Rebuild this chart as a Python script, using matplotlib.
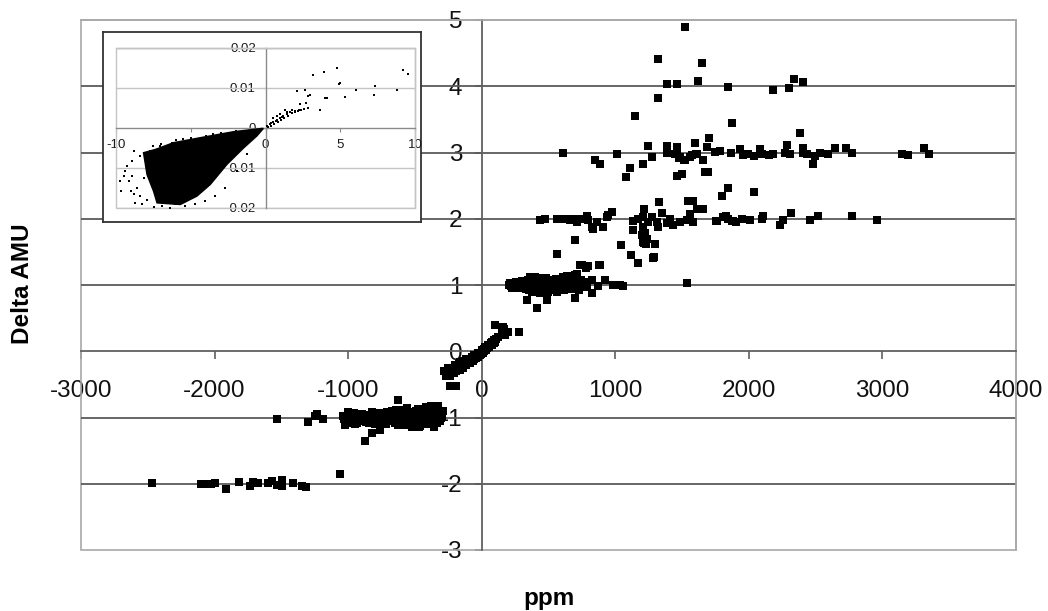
import matplotlib
matplotlib.use('Agg')
import matplotlib.pyplot as plt
from matplotlib.patches import Rectangle

plt.rcParams['font.family'] = ['Liberation Sans', 'DejaVu Sans']
plt.rcParams['axes.unicode_minus'] = False

# ---------------- main chart data (ppm, Delta AMU) ----------------
ppm_m2 = [-2471, -2100, -2065, -2030, -1995, -1917, -1817, -1735, -1711, -1674,
          -1600, -1570, -1532, -1495, -1495, -1410, -1344, -1314, -1061]
amu_m2 = [-1.99, -2.01, -2.01, -2.00, -1.99, -2.08, -1.97, -2.03, -1.97, -1.99,
          -1.99, -1.96, -2.02, -1.95, -2.03, -1.99, -2.03, -2.05, -1.86]

ppm_m1 = [-1530, -1298, -1248, -1186, -1023, -874, -824, -761, -629, -1235,
          -1040, -1020, -1000, -990, -970, -955, -940, -925, -910, -895,
          -880, -865, -850, -835, -820, -805, -790, -775, -760, -745,
          -730, -715, -700, -690, -675, -660, -645, -630, -615, -600,
          -590, -575, -560, -545, -530, -515, -500, -490, -475, -460,
          -450, -440, -425, -410, -400, -390, -375, -360, -350, -340,
          -325, -310, -300, -290, -330, -380, -420, -470, -520, -560,
          -640, -710, -800, -950, -1000, -900, -860, -700, -650, -550,
          -470, -420, -370, -320, -600, -750, -580, -430, -480, -350,
          -1030, -1010, -985, -965, -945, -930, -915, -890, -870, -845,
          -825, -810, -785, -770, -755, -735, -720, -705, -685, -665,
          -650, -635, -620, -605, -585, -570, -555, -540, -525, -510,
          -495, -480, -465, -455, -435, -415, -405, -395, -385, -365,
          -355, -345, -335, -315, -305, -295,
          -240, -195]
amu_m1 = [-1.03, -1.07, -0.97, -1.03, -1.11, -1.36, -1.23, -1.19, -0.74, -0.94,
          -0.97, -1.02, -0.95, -1.05, -1.00, -0.93, -1.04, -0.98, -1.06, -0.95,
          -1.01, -1.07, -0.96, -1.03, -0.92, -1.00, -1.08, -0.97, -1.04, -0.93,
          -1.00, -1.10, -0.96, -1.03, -0.90, -1.06, -0.99, -1.12, -0.94, -1.02,
          -0.88, -1.08, -0.97, -1.04, -0.91, -1.10, -0.99, -1.05, -0.87, -1.13,
          -0.95, -1.02, -0.90, -1.10, -0.97, -1.05, -0.85, -1.14, -0.93, -1.00,
          -0.88, -1.05, -0.95, -0.90, -0.83, -0.82, -0.84, -1.15, -1.14, -0.86,
          -0.89, -0.91, -1.10, -1.10, -0.91, -1.00, -0.99, -1.00, -1.00, -1.00,
          -1.00, -0.97, -0.95, -0.97, -0.95, -0.99, -1.05, -1.07, -0.93, -1.07,
          -1.03, -0.98, -1.08, -0.96, -1.01, -1.09, -0.94, -1.04, -0.97, -1.09,
          -1.02, -0.95, -1.04, -0.93, -1.10, -1.06, -0.97, -1.05, -0.94, -1.00,
          -1.08, -0.95, -1.05, -0.89, -1.12, -0.98, -1.09, -0.94, -1.06, -0.99,
          -0.90, -1.10, -0.98, -1.08, -0.93, -1.04, -0.88, -1.10, -0.99, -0.90,
          -1.03, -0.86, -1.09, -0.92, -1.01, -0.97,
          -0.53, -0.53]

ppm_0 = [-270, -250, -240, -225, -210, -200, -190, -175, -165, -150,
         -140, -125, -115, -100, -90, -75, -65, -50, -40, -25,
         -15, 0, 10, 20, 30, 45, 55, 70, 80, 95,
         100, -200, -160, -120, -250, -280, -230, -180, -130, -60,
         -260, -245, -235, -215, -205, -195, -185, -170, -155, -145,
         -135, -110, -95, -80, -70, -55, -45, -30, -20, -5,
         5, 15, 25, 40, 50, 65, 75, 90, 110,
         100, 160, 199, 175, 279, 150, 170, 120]
amu_0 = [-0.38, -0.33, -0.37, -0.30, -0.33, -0.27, -0.30, -0.24, -0.28, -0.20,
         -0.25, -0.17, -0.21, -0.14, -0.18, -0.10, -0.14, -0.07, -0.10, -0.03,
         -0.06, 0.00, -0.02, 0.04, 0.02, 0.08, 0.06, 0.12, 0.10, 0.17,
         0.14, -0.20, -0.16, -0.12, -0.25, -0.30, -0.26, -0.21, -0.15, -0.05,
         -0.35, -0.28, -0.32, -0.26, -0.29, -0.23, -0.26, -0.19, -0.24, -0.17,
         -0.21, -0.15, -0.12, -0.14, -0.08, -0.11, -0.05, -0.08, -0.02, -0.04,
         0.02, 0.00, 0.06, 0.05, 0.10, 0.09, 0.14, 0.13, 0.19,
         0.39, 0.37, 0.29, 0.24, 0.29, 0.30, 0.33, 0.22]

ppm_1 = [337, 412, 487, 699, 823, 399, 636, 711, 749, 798,
         886, 923, 823, 1023, 1055, 986, 873, 1035, 1540,
         205, 220, 235, 250, 265, 280, 295, 310, 320, 335,
         345, 355, 365, 375, 385, 395, 405, 415, 425, 435,
         445, 455, 465, 475, 485, 495, 505, 515, 525, 535,
         545, 555, 565, 575, 585, 595, 605, 615, 625, 635,
         645, 655, 665, 675, 685, 695, 705, 715, 725, 735,
         745, 760, 775, 790, 380, 440, 500, 560, 610, 650,
         420, 360, 300, 250, 700, 690,
         210, 228, 243, 258, 272, 288, 303, 315, 328, 340,
         350, 360, 370, 380, 390, 400, 410, 420, 430, 440,
         450, 460, 470, 480, 490, 500, 510, 520, 530, 540,
         550, 560, 570, 580, 590, 600, 620, 640, 660, 680]
amu_1 = [0.78, 0.66, 0.77, 0.80, 0.88, 1.12, 1.13, 1.17, 1.30, 1.28,
         1.30, 1.07, 1.07, 1.00, 0.98, 1.00, 0.98, 1.00, 1.03,
         1.00, 0.98, 1.02, 0.99, 1.03, 0.97, 1.01, 0.95, 1.04, 0.98,
         1.07, 0.93, 1.01, 0.96, 1.05, 0.99, 0.92, 1.03, 0.97, 1.08,
         0.94, 1.00, 1.05, 0.96, 1.02, 0.90, 1.06, 0.99, 0.94, 1.03,
         0.97, 1.09, 1.01, 0.95, 1.04, 0.98, 1.12, 0.93, 1.02, 1.07,
         0.96, 1.00, 1.10, 0.94, 1.03, 0.98, 1.06, 1.14, 0.93, 1.01,
         1.08, 0.99, 1.04, 0.97, 0.90, 0.88, 0.95, 0.90, 0.99, 1.13,
         1.10, 1.12, 1.06, 0.95, 1.15, 1.12,
         1.03, 0.96, 1.00, 1.05, 0.99, 1.03, 0.98, 1.02, 0.94, 1.01,
         0.97, 1.05, 1.09, 0.99, 0.93, 1.06, 0.98, 1.00, 0.93, 1.03,
         1.08, 0.97, 1.01, 1.10, 0.97, 1.02, 0.93, 1.05, 0.99, 1.08,
         0.94, 1.03, 1.07, 0.98, 1.01, 1.05, 1.06, 1.03, 1.00, 1.08]

ppm_2 = [436, 474, 561, 599, 611, 636, 661, 674, 711, 724,
         761, 786, 798, 823, 831, 861, 906, 911, 936, 948,
         973, 699, 561, 736, 780, 880, 1043, 1118, 1172, 1290,
         1297, 1230, 1210, 1223, 1135, 1130, 1172, 1205, 1210, 1218,
         1247, 1272, 1310, 1322, 1347, 1330, 1385, 1410, 1435, 1485,
         1535, 1560, 1585, 1547, 1585, 1610, 1647, 1654, 1759, 1797,
         1846, 2041, 1809, 1846, 1884, 1946, 2009, 2096, 2103, 2233,
         2258, 2313, 2458, 2520, 2770, 2962, 1754, 1829, 1872, 1904,
         1285, 1198, 1235, 1215]
amu_2 = [1.98, 2.00, 2.00, 2.00, 1.99, 2.00, 1.98, 1.99, 1.95, 2.00,
         2.00, 2.04, 1.98, 1.87, 1.85, 1.95, 1.87, 1.88, 2.03, 2.05,
         2.10, 1.68, 1.47, 1.30, 1.26, 1.30, 1.60, 1.46, 1.33, 1.42,
         1.62, 1.62, 1.65, 1.78, 1.83, 1.97, 2.00, 1.88, 2.03, 2.15,
         1.95, 2.03, 1.95, 1.88, 2.08, 2.25, 1.93, 2.00, 1.90, 1.95,
         1.98, 2.07, 1.95, 2.27, 2.27, 2.14, 2.14, 2.14, 1.96, 2.34,
         2.47, 2.40, 2.03, 2.00, 1.97, 2.00, 1.98, 2.00, 2.04, 1.90,
         1.98, 2.08, 1.98, 2.04, 2.04, 1.98, 1.97, 2.04, 1.96, 1.95,
         1.41, 1.75, 1.70, 1.63]

ppm_3 = [611, 848, 886, 1011, 1111, 1081, 1210, 1273, 1247, 1385,
         1385, 1460, 1447, 1485, 1522, 1572, 1610, 1597, 1704, 1689,
         1659, 1672, 1697, 1464, 1497, 1747, 1784, 1864, 1872, 2383,
         1934, 1959, 1997, 2039, 2084, 2096, 2153, 2183, 2271, 2288,
         2308, 2403, 2408, 2438, 2483, 2495, 2533, 2595, 2645, 2727,
         2770, 3144, 3194, 3311, 3351, 1515, 1560, 1605, 1654, 1465,
         1480, 1390]
amu_3 = [2.99, 2.89, 2.83, 2.97, 2.76, 2.63, 2.82, 2.93, 3.10, 3.10,
         2.99, 3.08, 2.98, 2.93, 2.89, 2.96, 2.98, 3.14, 3.22, 3.08,
         2.88, 2.70, 2.70, 2.65, 2.67, 3.01, 3.02, 3.00, 3.45, 3.30,
         3.05, 2.96, 2.97, 2.94, 3.06, 2.97, 2.96, 2.98, 2.99, 3.11,
         2.97, 3.07, 2.99, 2.97, 2.83, 2.94, 2.99, 2.98, 3.07, 3.07,
         2.99, 2.97, 2.96, 3.07, 2.97, 2.89, 2.93, 2.97, 2.89, 2.99,
         2.91, 3.02]

ppm_4 = [1522, 1322, 1647, 1622, 1385, 1460, 1322, 1148, 1846, 2179,
         2303, 2341, 2408]
amu_4 = [4.90, 4.41, 4.35, 4.08, 4.03, 4.03, 3.83, 3.55, 3.99, 3.95,
         3.97, 4.11, 4.06]

xtick_vals = [-3000, -2000, -1000, 0, 1000, 2000, 3000, 4000]
xtick_labels = ['-3000', '-2000', '-1000', '0', '1000', '2000', '3000', '4000']
ytick_vals = [-3, -2, -1, 0, 1, 2, 3, 4, 5]
ytick_labels = ['-3', '-2', '-1', '0', '1', '2', '3', '4', '5']
grid_vals = [-2, -1, 1, 2, 3, 4]

# ---------------- inset data ----------------
wedge_x = [-0.15, -2.15, -4.37, -6.15, -7.37, -8.15, -7.92, -7.48, -7.25,
           -5.70, -4.59, -3.70, -2.59, -1.48, -0.59]
wedge_y = [-0.0001, -0.00096, -0.00246, -0.0037, -0.0054, -0.0062, -0.0116,
           -0.0158, -0.0187, -0.0191, -0.0170, -0.0141, -0.0091, -0.0050, -0.0020]

in_x = [2.08, 2.63, 2.85, 2.97, 2.30, 2.70, 2.85, 3.19, 3.90, 4.79,
        4.92, 5.01, 3.63, 3.97, 4.12, 5.30, 6.03, 7.30, 7.23, 8.79,
        9.23, 9.52,
        0.08, 0.30, 0.52, 0.75, 0.97, 1.19, 1.41, 1.30, 1.63, 1.97,
        2.25, 0.97, 0.75, 0.52,
        0.20, 0.40, 0.60, 0.85, 1.05, 1.25, 1.50, 1.75, 2.00, 2.20,
        0.40, 0.70, 1.10, 1.45, 1.80, 2.40, 2.55,
        -9.70, -9.65, -9.25, -8.81, -9.15, -8.70, -8.25, -8.92, -8.59, -8.37,
        -7.48, -6.92, -6.37, -6.03, -5.37, -4.70, -4.03, -3.37, -2.70, -1.92,
        -1.25, -6.25, -7.03, -7.70, -8.37, -8.92, -9.37, -9.48, -8.81, -7.92,
        -9.03, -8.15,
        -1.00, -2.00, -3.00, -4.00, -5.00, -6.00, -7.00, -7.50, -3.50, -5.50]
in_y = [0.0092, 0.0094, 0.0080, 0.0082, 0.0060, 0.0063, 0.0050, 0.0132, 0.0140, 0.0149,
        0.0110, 0.0113, 0.0046, 0.0074, 0.0075, 0.0077, 0.0096, 0.0105, 0.0082, 0.0096,
        0.0146, 0.0134,
        0.0005, 0.0009, 0.0015, 0.0020, 0.0025, 0.0030, 0.0035, 0.0044, 0.0040, 0.0042,
        0.0045, 0.0035, 0.0030, 0.0024,
        0.0002, 0.0006, 0.0010, 0.0016, 0.0020, 0.0026, 0.0031, 0.0037, 0.0040, 0.0043,
        0.0012, 0.0017, 0.0028, 0.0039, 0.0046, 0.0045, 0.0047,
        -0.0133, -0.0158, -0.0095, -0.0058, -0.0133, -0.0187, -0.0191, -0.0120, -0.0150, -0.0170,
        -0.0198, -0.0195, -0.0200, -0.0191, -0.0195, -0.0191, -0.0183, -0.0170, -0.0150, -0.0108,
        -0.0066, -0.0037, -0.0045, -0.0058, -0.0070, -0.0083, -0.0108, -0.0120, -0.0166, -0.0179,
        -0.0158, -0.0125,
        -0.0004, -0.0008, -0.0013, -0.0019, -0.0025, -0.0031, -0.0040, -0.0045, -0.0014, -0.0028]

in_xtick_vals = [-10, -5, 0, 5, 10]
in_xtick_labels = ['-10', '-5', '0', '5', '10']
in_ytick_vals = [-0.02, -0.01, 0, 0.01, 0.02]
in_ytick_labels = ['-0.02', '-0.01', '0', '0.01', '0.02']
in_grid_vals = [-0.02, -0.01, 0.01, 0.02]

# ---------------- figure ----------------
W, H = 1048, 611
fig = plt.figure(figsize=(W / 100, H / 100), dpi=100)
fig.patch.set_facecolor('white')

ax = fig.add_axes([81 / W, 1 - 550 / H, 935 / W, 530 / H])
ax.set_xlim(-3000, 4000)
ax.set_ylim(-3, 5)
ax.set_axisbelow(True)
for g in grid_vals:
    ax.axhline(g, color='#5a5a5a', lw=1.3, zorder=1)

for s in ['top', 'right']:
    ax.spines[s].set_color('#a8a8a8')
    ax.spines[s].set_linewidth(1.2)
for s in ['left', 'bottom']:
    ax.spines[s].set_position(('data', 0))
    ax.spines[s].set_color('#606060')
    ax.spines[s].set_linewidth(1.3)
ax.add_patch(Rectangle((0, 0), 1, 1, transform=ax.transAxes, fill=False,
                       ec='#a8a8a8', lw=1.2, zorder=0.8, clip_on=False))

ax.set_xticks(xtick_vals)
ax.set_xticklabels(xtick_labels)
ax.set_yticks(ytick_vals)
ax.set_yticklabels(ytick_labels)
ax.tick_params(axis='x', direction='out', length=6, width=1.2, color='#606060',
               pad=15, labelsize=17.5, labelcolor='#111111')
ax.tick_params(axis='y', direction='out', length=5, width=1.2, color='#606060',
               pad=9, labelsize=17.5, labelcolor='#111111')

for xs, ys in [(ppm_m2, amu_m2), (ppm_m1, amu_m1), (ppm_0, amu_0), (ppm_1, amu_1),
               (ppm_2, amu_2), (ppm_3, amu_3), (ppm_4, amu_4)]:
    ax.scatter(xs, ys, marker='s', s=28, c='black', linewidths=0, zorder=3)

fig.text(22.5 / W, 1 - 284 / H, 'Delta AMU', rotation=90, ha='center', va='center',
         fontsize=17.5, fontweight='bold')
fig.text(548.5 / W, 1 - 598 / H, 'ppm', ha='center', va='center',
         fontsize=17.5, fontweight='bold')

# ---------------- inset ----------------
box = fig.add_axes([103 / W, 1 - 222 / H, 318 / W, 190 / H])
box.set_zorder(5)
box.set_xticks([])
box.set_yticks([])
box.set_facecolor('white')
for s in box.spines.values():
    s.set_color('#333333')
    s.set_linewidth(1.3)

ins = fig.add_axes([116 / W, 1 - 208 / H, 299 / W, 160 / H])
ins.set_zorder(6)
ins.patch.set_alpha(0)
ins.set_xlim(-10, 10)
ins.set_ylim(-0.02, 0.02)
ins.set_axisbelow(True)
for g in in_grid_vals:
    ins.axhline(g, color='#c4c4c4', lw=1.0, zorder=1)
for s in ['top', 'right']:
    ins.spines[s].set_color('#c4c4c4')
    ins.spines[s].set_linewidth(1.0)
for s in ['left', 'bottom']:
    ins.spines[s].set_position(('data', 0))
    ins.spines[s].set_color('#8a8a8a')
    ins.spines[s].set_linewidth(1.0)
ins.add_patch(Rectangle((0, 0), 1, 1, transform=ins.transAxes, fill=False,
                        ec='#c4c4c4', lw=1.0, zorder=0.8, clip_on=False))
ins.set_xticks(in_xtick_vals)
ins.set_xticklabels(in_xtick_labels)
ins.set_yticks(in_ytick_vals)
ins.set_yticklabels(in_ytick_labels)
ins.tick_params(axis='x', direction='out', length=3, width=0.8, color='#8a8a8a',
                pad=5, labelsize=9.5, labelcolor='#1a1a1a')
ins.tick_params(axis='y', direction='out', length=3, width=0.8, color='#8a8a8a',
                pad=4, labelsize=9.5, labelcolor='#1a1a1a')

ins.fill(wedge_x, wedge_y, color='black', lw=1.2, ec='black', zorder=3)
ins.scatter(in_x, in_y, marker='s', s=4, c='black', linewidths=0, zorder=3)

fig.savefig('out.png', dpi=100, facecolor='white')
